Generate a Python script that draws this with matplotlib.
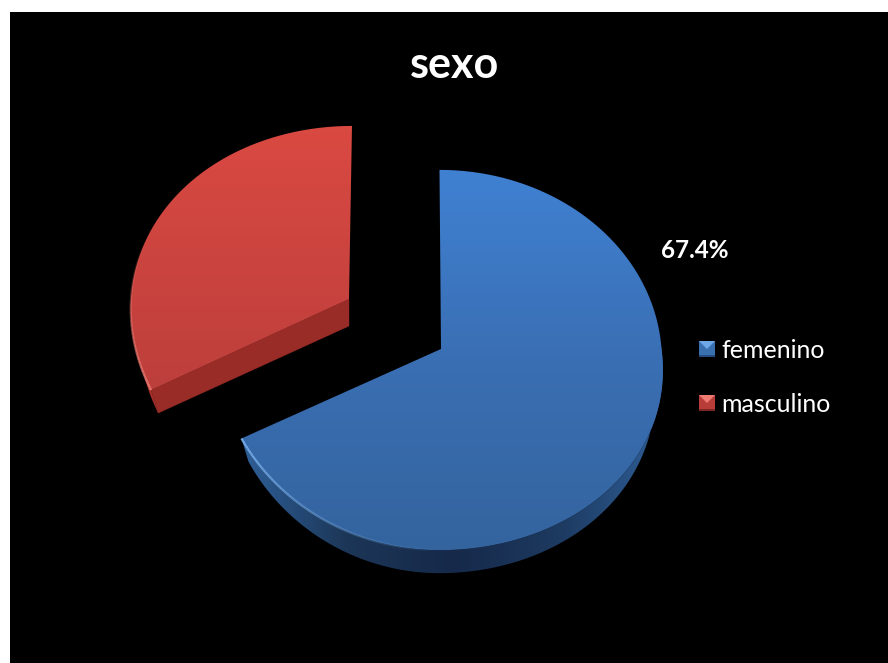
import numpy as np
import matplotlib
matplotlib.use("Agg")
import matplotlib.pyplot as plt
from matplotlib.collections import LineCollection
from matplotlib.colors import LinearSegmentedColormap, to_rgb
from matplotlib.patches import Polygon, Rectangle

# Data
title = "sexo"
categories = ["femenino", "masculino"]
shares = [67.4, 32.6]
share_label = "67.4%"

# Pie geometry, in pixels
RY = 189.5
DEPTH = 23.0
SHRINK = 0.965  # lower rim sits slightly inside the upper one

plt.rcParams["font.family"] = ["Lato", "DejaVu Sans"]


def project(theta, center, rx, persp, xpersp, skew):
    # theta runs clockwise from twelve o'clock on a tilted disc
    s, c = np.sin(theta), np.cos(theta)
    x = center[0] + rx * s / (1 + xpersp * c) + skew * np.maximum(-c, 0) * np.abs(s)
    return x, center[1] - RY * c / (1 + persp * c)


def gradient_fill(ax, pts, colors, zorder, horizontal=False, span=(0, 663)):
    # linear gradient clipped to a polygon
    cmap = LinearSegmentedColormap.from_list("shade", colors)
    patch = Polygon(pts, closed=True, fc="none", ec="none", transform=ax.transData)
    ax.add_patch(patch)
    ramp = np.linspace(0, 1, 256)
    if horizontal:
        arr, extent = ramp.reshape(1, -1), (span[0], span[1], 663, 0)
    else:
        arr, extent = ramp.reshape(-1, 1), (0, 888, span[1], span[0])
    im = ax.imshow(arr, cmap=cmap, aspect="auto", extent=extent, zorder=zorder,
                   interpolation="bilinear")
    im.set_clip_path(patch)


def draw_rim(ax, x, y, color, lw=1.6):
    # highlight along the rim, fading out towards the far end
    pts = np.column_stack([x, y])
    segs = np.stack([pts[:-1], pts[1:]], axis=1)
    alpha = np.linspace(0.9, 0.0, len(segs))
    rgb = to_rgb(color)
    ax.add_collection(LineCollection(segs, colors=[(*rgb, a) for a in alpha],
                                     linewidths=lw, zorder=4))


def draw_slice(ax, start, end, center, apex, shape, top_cols, wall_cols, wall_span,
               rim, rim_from_start, rim_len, face=None):
    theta = np.linspace(start, end, 300)
    x, y = project(theta, center, *shape)
    arc = np.column_stack([x, y])
    apex = np.array(apex)

    # front wall under the near part of the rim
    near = np.cos(theta) < 0.02
    fa = arc[near]
    low = fa.copy()
    low[:, 0] = center[0] + (low[:, 0] - center[0]) * SHRINK
    low[:, 1] += DEPTH
    wall_pts = np.vstack([fa, low[::-1]])
    gradient_fill(ax, wall_pts, wall_cols, 2, horizontal=True, span=wall_span)

    if face:
        # cut face, from the apex out to the rim end
        corner = arc[0] + [(center[0] - arc[0][0]) * (1 - SHRINK), DEPTH]
        pts = np.vstack([apex, arc[0], corner, apex + [0, DEPTH + 4]])
        ax.add_patch(Polygon(pts, closed=True, fc=face, ec=face, lw=0.3, zorder=2))

    gradient_fill(ax, np.vstack([apex, arc]), top_cols, 3,
                  span=(center[1] - RY, center[1] + RY * 1.08))

    n = int(rim_len * len(theta))
    if rim_from_start:
        draw_rim(ax, x[:n], y[:n], rim)
    else:
        draw_rim(ax, x[::-1][:n], y[::-1][:n], rim)


def draw_swatch(ax, x, y, base, light, dark):
    ax.add_patch(Rectangle((x, y), 16, 16, fc=base, ec="none", zorder=3))
    ax.add_patch(Polygon([(x, y), (x + 16, y), (x + 8, y + 8)], fc=light, ec="none", zorder=4))
    ax.add_patch(Rectangle((x, y + 14), 16, 2, fc=dark, ec="none", zorder=4))


fig = plt.figure(figsize=(8.88, 6.63), dpi=100, facecolor="white")
ax = fig.add_axes([0, 0, 1, 1])
ax.add_patch(Rectangle((10, 12), 878, 651, fc="black", ec="none", zorder=0))

fractions = np.array(shares) / sum(shares)
edges = np.concatenate([[0], np.cumsum(fractions)]) * 2 * np.pi

# femenino
draw_slice(ax, edges[0], edges[1], (439.5, 349), (441, 349), (222, 0.058, 0.06, 11.6),
           ("#4082D4", "#3A6FB4", "#34649E"),
           ("#2F6099", "#1C3657", "#16294A", "#1D3A60", "#2F5F98"), (240, 665),
           "#7DB4EE", False, 0.26)

# masculino, pulled away from the centre
draw_slice(ax, edges[1], edges[2], (352, 299), (349, 299), (221, 0.095, 0.05, 0.0),
           ("#DB4A42", "#C7423E", "#AE3B38"),
           ("#A8302C", "#9A2C28", "#962A27"), (130, 350),
           "#F08078", True, 0.4, face="#9A2C28")

ax.text(455, 65, title, color="white", fontsize=31, fontweight="bold", ha="center", va="center")
ax.text(695, 251, share_label, color="white", fontsize=17.5, fontweight="bold", ha="center", va="center")

legend_y = [349, 403]
swatch_cols = [("#3A6FB0", "#6FA8E8", "#254C80"), ("#B83C38", "#EE7A72", "#7E2623")]
for name, ly, cols in zip(categories, legend_y, swatch_cols):
    draw_swatch(ax, 699, ly - 8, *cols)
    ax.text(721, ly + 1.5, name, color="white", fontsize=18, ha="left", va="center")

ax.set_xlim(0, 888)
ax.set_ylim(663, 0)
ax.axis("off")
fig.savefig("out.png", dpi=100, facecolor="white")
